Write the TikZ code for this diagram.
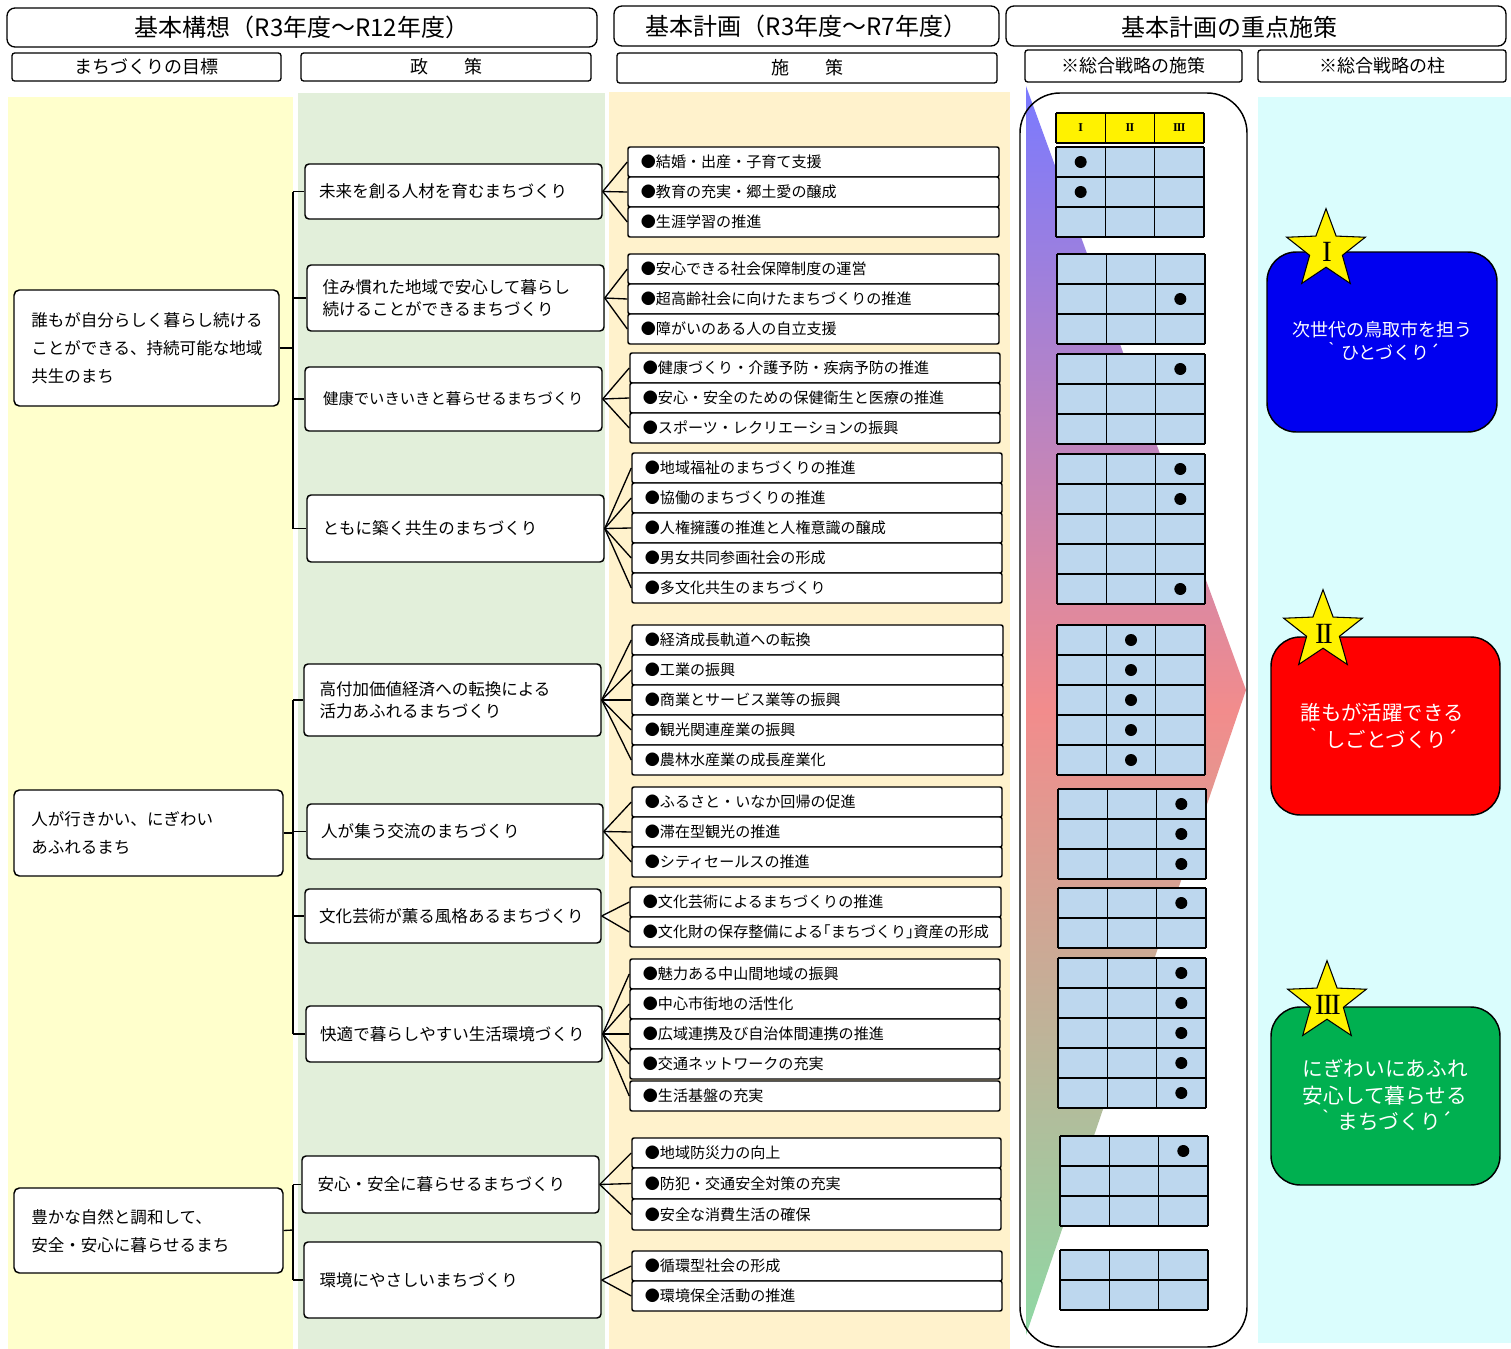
\documentclass[tikz,border=0pt]{standalone}
\usepackage{fontspec}
\setmainfont{Noto Sans CJK JP}
\newfontfamily\romfont{Liberation Serif}
\usetikzlibrary{fit,shapes.geometric}
\definecolor{bgY}{HTML}{FFFFCC}
\definecolor{bgG}{HTML}{E2EFDA}
\definecolor{bgO}{HTML}{FFF2CC}
\definecolor{bgC}{HTML}{DAFDFD}
\definecolor{tblue}{HTML}{BDD7EE}
\definecolor{pBlue}{HTML}{0000F0}
\definecolor{pRed}{HTML}{FF0000}
\definecolor{pGreen}{HTML}{00B050}
\definecolor{arBlue}{HTML}{7A7AFF}
\definecolor{arPink}{HTML}{F28C8C}
\definecolor{arGreen}{HTML}{8ED8A4}
\newcommand\bx[6][]{\node[fit={(#3,#4)(#5,#6)},inner sep=0pt,#1] (#2) {};}
\newcommand\itm[6]{\bx[rowbox]{#1}{#2}{#3}{#4}{#5}\node[itemtext] (#1t) at ([xshift=10pt]#1.west) {●#6};}
\newcommand\pol[7]{\bx[polbox]{#1}{#2}{#3}{#4}{#5}\node[bodytext] (#1t) at ([xshift=#6]#1.west) {#7};}
\newcommand\tbl[3]{%
  \fill[tblue] (#1,#2) rectangle ({#1+148},{#2+#3*30});
  \foreach \i in {0,...,#3} \draw[tline] (#1,{#2+\i*30}) -- ({#1+148},{#2+\i*30});
  \foreach \j in {0,1,2,3} \draw[tline] ({#1+\j*49.33},#2) -- ({#1+\j*49.33},{#2+#3*30});
}
\newcommand\dotat[4]{\fill ({#1+24.67+#3*49.33},{#2+15+#4*30}) circle (4.5pt);}
\newcommand\rI{I}
\newcommand\rII{I\kern-0.06em I}
\newcommand\rIII{I\kern-0.06em I\kern-0.06em I}
\begin{document}
\begin{tikzpicture}[x=0.75pt,y=-0.75pt,
  every node/.style={inner sep=0pt},
  hdr/.style={draw, rounded corners=6pt, line width=1pt, fill=white},
  sub/.style={draw, rounded corners=2pt, line width=1pt, fill=white},
  hdrtext/.style={font=\fontsize{18}{20}\selectfont},
  subtext/.style={font=\fontsize{13.5}{15}\selectfont},
  goalbox/.style={draw, rounded corners=4pt, line width=1.1pt, fill=white},
  polbox/.style={draw, rounded corners=3pt, line width=1.1pt, fill=white},
  rowbox/.style={draw, rounded corners=1.5pt, line width=1.1pt, fill=white},
  bodytext/.style={font=\fontsize{12.4}{16.5}\selectfont, align=left, anchor=west},
  goaltext/.style={font=\fontsize{12.4}{21}\selectfont, align=left, anchor=west},
  itemtext/.style={font=\fontsize{11.3}{13}\selectfont, anchor=west},
  link/.style={line width=1pt},
  tline/.style={line width=1.1pt},
  pillar/.style={draw, line width=1.1pt, rounded corners=22pt},
  pilltext/.style={text=white, align=center},
  starnode/.style={star, star points=5, star point ratio=2.4, minimum size=62pt, fill=yellow, draw, line width=0.8pt, inner sep=0pt},
  startext/.style={font=\romfont\fontsize{22}{22}\selectfont},
  thtext/.style={font=\romfont\bfseries\fontsize{9}{9}\selectfont},
]
\useasboundingbox (0,0) rectangle (1511,1349);
% backgrounds
\fill[bgY] (8,97) rectangle (293,1349);
\fill[bgG] (298,93) rectangle (605,1349);
\fill[bgO] (609,92) rectangle (1010,1349);
\fill[bgC] (1258,97) rectangle (1511,1343);
% middle rounded panel with arrow
\fill[white, rounded corners=30pt] (1020,93) rectangle (1247,1347);
\shade[top color=arBlue, bottom color=arGreen, middle color=arPink] (1026,86) -- (1246,690) -- (1026,1335) -- cycle;
\draw[line width=1.1pt, rounded corners=30pt] (1020,93) rectangle (1247,1347);

% headers
\bx[hdr]{h1}{7}{8}{597}{47}
\node[hdrtext] (h1t) at (h1.center) {基本構想（R3年度～R12年度）};
\bx[hdr]{h2}{614}{6}{999}{46}
\node[hdrtext] (h2t) at (h2.center) {基本計画（R3年度～R7年度）};
\bx[hdr]{h3}{1006}{6}{1506}{46}
\node[hdrtext] (h3t) at (1229,27) {基本計画の重点施策};
\bx[sub]{s1}{12}{53}{281}{81}
\node[subtext] (s1t) at (s1.center) {まちづくりの目標};
\bx[sub]{s2}{301}{53}{591}{81}
\node[subtext] (s2t) at (s2.center) {政　　策};
\bx[sub]{s3}{617}{53}{997}{83}
\node[subtext] (s3t) at (s3.center) {施　　策};
\bx[sub]{s4}{1025}{50}{1242}{82}
\node[subtext] (s4t) at (s4.center) {※総合戦略の施策};
\bx[sub]{s5}{1258}{50}{1506}{82}
\node[subtext] (s5t) at (s5.center) {※総合戦略の柱};

% goals
\bx[goalbox]{g1}{14}{290}{279}{406}
\node[goaltext] (g1t) at (31,348) {誰もが自分らしく暮らし続ける\\ことができる、持続可能な地域\\共生のまち};
\bx[goalbox]{g2}{14}{790}{283}{876}
\node[goaltext] (g2t) at (31,833) {人が行きかい、にぎわい\\あふれるまち};
\bx[goalbox]{g3}{14}{1188}{283}{1273}
\node[goaltext] (g3t) at (31,1231) {豊かな自然と調和して、\\安全・安心に暮らせるまち};

% policies
\pol{p1}{305}{164}{602}{219}{11pt}{未来を創る人材を育むまちづくり}
\pol{p2}{307}{265}{604}{331}{12pt}{住み慣れた地域で安心して暮らし\\続けることができるまちづくり}
\pol{p3}{305}{367}{602}{431}{14pt}{\fontsize{11.5}{14}\selectfont 健康でいきいきと暮らせるまちづくり}
\pol{p4}{307}{495}{604}{562}{12pt}{ともに築く共生のまちづくり}
\pol{p5}{304}{664}{601}{736}{12pt}{高付加価値経済への転換による\\活力あふれるまちづくり}
\pol{p6}{307}{804}{603}{859}{11pt}{人が集う交流のまちづくり}
\pol{p7}{305}{889}{601}{943}{11pt}{文化芸術が薫る風格あるまちづくり}
\pol{p8}{306}{1006}{602}{1062}{11pt}{快適で暮らしやすい生活環境づくり}
\pol{p9}{302}{1156}{599}{1213}{12pt}{安心・安全に暮らせるまちづくり}
\pol{p10}{304}{1242}{601}{1318}{12pt}{環境にやさしいまちづくり}

% brackets
\coordinate (j1) at (293,348);
\coordinate (j2) at (293,833);
\coordinate (j3) at (293,1230);
\draw[link] (g1.east) -- (j1);
\draw[link] (g2.east) -- (j2);
\draw[link] (g3.east) -- (j3);
\draw[link] (j1 |- p1.west) -- (j1 |- p4.west);
\draw[link] (j2 |- p5.west) -- (j2 |- p8.west);
\draw[link] (j3 |- p9.west) -- (j3 |- p10.west);
\foreach \p in {p1,p2,p3,p4} \draw[link] (j1 |- \p.west) -- (\p.west);
\foreach \p in {p5,p6,p7,p8} \draw[link] (j2 |- \p.west) -- (\p.west);
\foreach \p in {p9,p10} \draw[link] (j3 |- \p.west) -- (\p.west);

% measures
\itm{a1}{628}{147}{999}{177}{結婚・出産・子育て支援}
\itm{a2}{628}{177}{999}{207}{教育の充実・郷土愛の醸成}
\itm{a3}{628}{207}{999}{237}{生涯学習の推進}
\itm{b1}{628}{254}{999}{284}{安心できる社会保障制度の運営}
\itm{b2}{628}{284}{999}{314}{超高齢社会に向けたまちづくりの推進}
\itm{b3}{628}{314}{999}{344}{障がいのある人の自立支援}
\itm{c1}{630}{353}{1000}{383}{健康づくり・介護予防・疾病予防の推進}
\itm{c2}{630}{383}{1000}{413}{安心・安全のための保健衛生と医療の推進}
\itm{c3}{630}{413}{1000}{443}{スポーツ・レクリエーションの振興}
\itm{d1}{632}{453}{1002}{483}{地域福祉のまちづくりの推進}
\itm{d2}{632}{483}{1002}{513}{協働のまちづくりの推進}
\itm{d3}{632}{513}{1002}{543}{人権擁護の推進と人権意識の醸成}
\itm{d4}{632}{543}{1002}{573}{男女共同参画社会の形成}
\itm{d5}{632}{573}{1002}{603}{多文化共生のまちづくり}
\itm{e1}{632}{625}{1003}{655}{経済成長軌道への転換}
\itm{e2}{632}{655}{1003}{685}{工業の振興}
\itm{e3}{632}{685}{1003}{715}{商業とサービス業等の振興}
\itm{e4}{632}{715}{1003}{745}{観光関連産業の振興}
\itm{e5}{632}{745}{1003}{775}{農林水産業の成長産業化}
\itm{f1}{632}{787}{1002}{817}{ふるさと・いなか回帰の促進}
\itm{f2}{632}{817}{1002}{847}{滞在型観光の推進}
\itm{f3}{632}{847}{1002}{877}{シティセールスの推進}
\itm{k1}{630}{887}{1001}{917}{文化芸術によるまちづくりの推進}
\itm{k2}{630}{917}{1001}{947}{文化財の保存整備による｢まちづくり｣資産の形成}
\itm{m1}{630}{959}{1000}{989}{魅力ある中山間地域の振興}
\itm{m2}{630}{989}{1000}{1019}{中心市街地の活性化}
\itm{m3}{630}{1019}{1000}{1049}{広域連携及び自治体間連携の推進}
\itm{m4}{630}{1049}{1000}{1079}{交通ネットワークの充実}
\itm{m5}{630}{1081}{1000}{1111}{生活基盤の充実}
\itm{n1}{632}{1138}{1001}{1168}{地域防災力の向上}
\itm{n2}{632}{1168}{1001}{1199}{防犯・交通安全対策の充実}
\itm{n3}{632}{1199}{1001}{1230}{安全な消費生活の確保}
\itm{q1}{632}{1251}{1002}{1281}{循環型社会の形成}
\itm{q2}{632}{1281}{1002}{1311}{環境保全活動の推進}

% fans
\foreach \r in {a1,a2,a3} \draw[link] (p1.east) -- (\r.west);
\foreach \r in {b1,b2,b3} \draw[link] (p2.east) -- (\r.west);
\foreach \r in {c1,c2,c3} \draw[link] (p3.east) -- (\r.west);
\foreach \r in {d1,d2,d3,d4,d5} \draw[link] (p4.east) -- (\r.west);
\foreach \r in {e1,e2,e3,e4,e5} \draw[link] (p5.east) -- (\r.west);
\foreach \r in {f1,f2,f3} \draw[link] (p6.east) -- (\r.west);
\foreach \r in {k1,k2} \draw[link] (p7.east) -- (\r.west);
\foreach \r in {m1,m2,m3,m4,m5} \draw[link] (p8.east) -- (\r.west);
\foreach \r in {n1,n2,n3} \draw[link] (p9.east) -- (\r.west);
\foreach \r in {q1,q2} \draw[link] (p10.east) -- (\r.west);

% strategy table header
\fill[yellow] (1056,113) rectangle (1204,143);
\foreach \j in {0,1,2,3} \draw[tline] ({1056+\j*49.33},113) -- ({1056+\j*49.33},143);
\draw[tline] (1056,113) -- (1204,113);
\draw[tline] (1056,143) -- (1204,143);
\node[thtext] (th1) at (1080.7,128) {\rI};
\node[thtext] (th2) at (1130,128) {\rII};
\node[thtext] (th3) at (1179.3,128) {\rIII};

% strategy tables
\tbl{1056}{147}{3}
\dotat{1056}{147}{0}{0}\dotat{1056}{147}{0}{1}
\tbl{1057}{254}{3}
\dotat{1057}{254}{2}{1}
\tbl{1057}{354}{3}
\dotat{1057}{354}{2}{0}
\tbl{1057}{454}{5}
\dotat{1057}{454}{2}{0}\dotat{1057}{454}{2}{1}\dotat{1057}{454}{2}{4}
\tbl{1057}{625}{5}
\foreach \r in {0,...,4} {\dotat{1057}{625}{1}{\r}}
\tbl{1058}{789}{3}
\foreach \r in {0,1,2} {\dotat{1058}{789}{2}{\r}}
\tbl{1058}{888}{2}
\dotat{1058}{888}{2}{0}
\tbl{1058}{958}{5}
\foreach \r in {0,...,4} {\dotat{1058}{958}{2}{\r}}
\tbl{1060}{1136}{3}
\dotat{1060}{1136}{2}{0}
\tbl{1060}{1250}{2}

% pillars
\node[pillar, fill=pBlue, fit={(1267,252)(1497,432)}] (pb) {};
\node[pilltext, font=\fontsize{13.5}{17.5}\selectfont] (pbt) at (1382,341) {次世代の鳥取市を担う\\｀ひとづくり´};
\node[starnode] (st1) at (1326,250) {};
\node[startext] (st1t) at (1327,252) {\rI};
\node[pillar, fill=pRed, fit={(1271,637)(1500,815)}] (pr) {};
\node[pilltext, font=\fontsize{15.3}{20}\selectfont] (prt) at (1382,726) {誰もが活躍できる\\｀しごとづくり´};
\node[starnode] (st2) at (1323,631) {};
\node[startext] (st2t) at (1324,634) {\rII};
\node[pillar, fill=pGreen, fit={(1271,1007)(1500,1185)}] (pg) {};
\node[pilltext, font=\fontsize{15.5}{20.2}\selectfont] (pgt) at (1385,1095) {にぎわいにあふれ\\安心して暮らせる\\｀まちづくり´};
\node[starnode] (st3) at (1327,1002) {};
\node[startext] (st3t) at (1328,1005) {\rIII};
\end{tikzpicture}
\end{document}
